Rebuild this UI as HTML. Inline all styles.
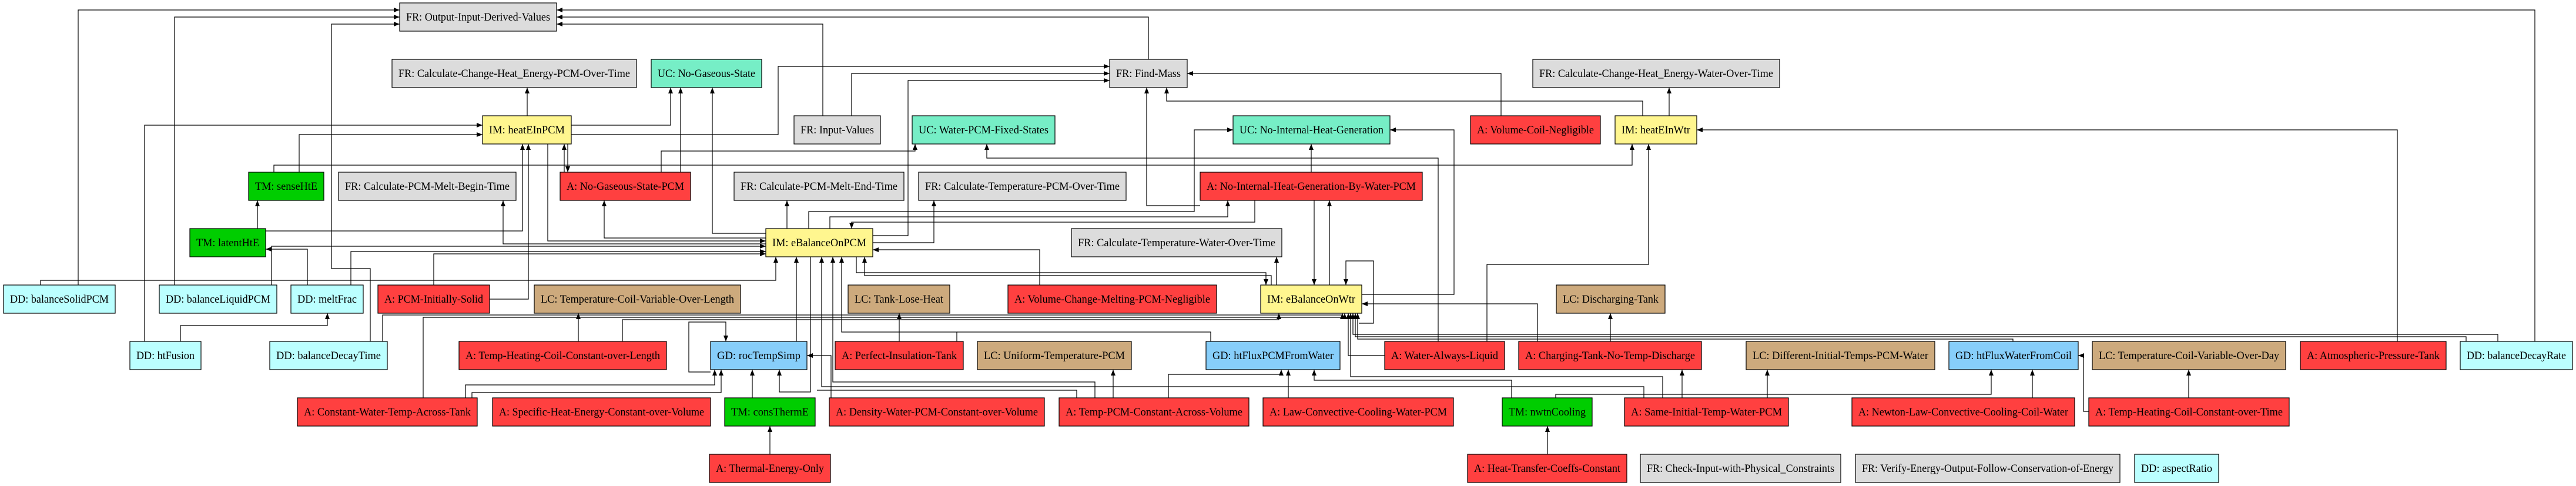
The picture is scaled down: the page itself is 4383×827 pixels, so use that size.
<!DOCTYPE html>
<html><head><meta charset="utf-8"><style>
html,body{margin:0;padding:0;background:#fff;}
svg{display:block;}
text{font-family:"Liberation Serif",serif;font-size:19px;fill:#000;text-anchor:middle;}
rect{stroke:#000;stroke-width:1.2;}
.e{fill:none;stroke:#000;stroke-width:1.2;marker-end:url(#a);}
.n{fill:none;stroke:#000;stroke-width:1.2;}
.FR{fill:#dcdcdc}.UC{fill:#76eec6}.IM{fill:#fff68f}.TM{fill:#00cd00}.A{fill:#ff4040}.LC{fill:#cdaa7d}.DD{fill:#bbffff}.GD{fill:#87cefa}
</style></head><body>
<svg width="4383" height="827" viewBox="0 0 4383 827" xmlns="http://www.w3.org/2000/svg">
<defs><marker id="a" markerWidth="10" markerHeight="8" refX="10" refY="4" orient="auto" markerUnits="userSpaceOnUse"><path d="M0,0L10,4L0,8z" fill="#000"/></marker></defs>
<g>
<polyline class="e" points="133,485 133,17 680,17"/>
<polyline class="e" points="297,485 297,29 680,29"/>
<polyline class="e" points="630,581 630,457 564,457 564,41 680,41"/>
<polyline class="e" points="4313,581 4313,17 947,17"/>
<polyline class="e" points="1954,101 1954,29 947,29"/>
<polyline class="e" points="1400,197 1400,41 947,41"/>
<polyline class="e" points="897,197 897,149"/>
<polyline class="e" points="246,581 246,213 821,213"/>
<polyline class="e" points="509,293 509,229 821,229"/>
<polyline class="e" points="466,293 466,281 2777,281 2777,245"/>
<polyline class="e" points="438,389 438,341"/>
<polyline class="e" points="452,393 889,393 889,245"/>
<polyline class="e" points="833,509 899,509 899,245"/>
<polyline class="e" points="960,293 960,245"/>
<polyline class="e" points="966,245 966,293"/>
<polyline class="e" points="932,245 932,410 1303,410"/>
<polyline class="e" points="1303,415 856,415 856,341"/>
<polyline class="e" points="1303,405 1028,405 1028,341"/>
<polyline class="e" points="523,485 523,424 452,424"/>
<polyline class="e" points="462,485 462,419 1303,419"/>
<polyline class="e" points="597,485 597,428 1303,428"/>
<polyline class="e" points="738,485 738,432 1303,432"/>
<polyline class="e" points="69,485 69,477 1320,477 1320,437"/>
<polyline class="e" points="307,581 307,554 557,554 557,533"/>
<polyline class="e" points="651,581 651,536 2284,536 2284,533"/>
<polyline class="e" points="720,677 720,540 2288,540 2288,533"/>
<polyline class="e" points="984,581 984,533"/>
<polyline class="e" points="1059,581 1059,544 2176,544 2176,533"/>
<polyline class="e" points="792,677 792,655 1216,655 1216,629"/>
<polyline class="e" points="803,677 803,668 1227,668 1227,629"/>
<polyline class="e" points="972,213 1141,213 1141,149"/>
<polyline class="e" points="1158,293 1158,149"/>
<polyline class="e" points="1303,397 1212,397 1212,149"/>
<polyline class="e" points="972,229 1324,229 1324,113 1888,113"/>
<polyline class="e" points="1449,197 1449,125 1888,125"/>
<polyline class="e" points="1485,401 1545,401 1545,137 1888,137"/>
<polyline class="e" points="2554,197 2554,125 2020,125"/>
<polyline class="e" points="2042,350 1951,350 1951,149"/>
<polyline class="e" points="2795,197 2795,172 1985,172 1985,149"/>
<polyline class="e" points="1125,293 1125,257 1557,257 1557,245"/>
<polyline class="e" points="2447,581 2447,269 1679,269 1679,245"/>
<polyline class="e" points="1339,389 1339,341"/>
<polyline class="e" points="1485,413 1589,413 1589,341"/>
<polyline class="e" points="1376,389 1376,360 2032,360 2032,221 2098,221"/>
<polyline class="e" points="1412,389 1412,369 2089,369 2089,341"/>
<polyline class="e" points="2135,341 2135,378 1449,378 1449,389"/>
<polyline class="e" points="1769,485 1769,425 1485,425"/>
<polyline class="e" points="1457,437 1457,464 2154,464 2154,485"/>
<polyline class="e" points="2163,485 2163,469 1471,469 1471,437"/>
<polyline class="e" points="2172,485 2172,437"/>
<polyline class="e" points="1355,581 1355,437"/>
<polyline class="e" points="1379,437 1379,667 1326,667 1326,629"/>
<polyline class="e" points="2797,677 2797,658 1398,658 1398,437"/>
<polyline class="e" points="1863,677 1863,650 1417,650 1417,437"/>
<polyline class="e" points="1628,581 1628,565 1432,565 1432,437"/>
<polyline class="n" points="2060,581 2060,565 1628,565"/>
<polyline class="e" points="1209,633 1172,633 1172,548 1235,548 1235,581"/>
<polyline class="e" points="1280,677 1280,629"/>
<polyline class="e" points="1530,581 1530,533"/>
<polyline class="e" points="1414,677 1414,605 1373,605"/>
<polyline class="e" points="1894,677 1894,629"/>
<polyline class="n" points="1832,677 1832,664 1390,664"/>
<polyline class="e" points="2192,677 2192,629"/>
<polyline class="e" points="1988,677 1988,637 2180,637 2180,629"/>
<polyline class="e" points="1310,773 1310,725"/>
<polyline class="e" points="2840,197 2840,149"/>
<polyline class="e" points="4079,581 4079,221 2887,221"/>
<polyline class="e" points="2262,485 2262,341"/>
<polyline class="e" points="2236,341 2236,485"/>
<polyline class="e" points="2231,293 2231,245"/>
<polyline class="e" points="2312,550 2337,550 2337,444 2290,444 2290,485"/>
<polyline class="e" points="2317,501 2474,501 2474,221 2365,221"/>
<polyline class="e" points="2616,581 2616,517 2317,517"/>
<polyline class="e" points="2530,581 2530,450 2805,450 2805,245"/>
<polyline class="e" points="2740,581 2740,533"/>
<polyline class="e" points="2862,677 2862,629"/>
<polyline class="e" points="3007,677 3007,629"/>
<polyline class="e" points="2356,605 2294,605 2294,533"/>
<polyline class="e" points="2572,677 2572,647 2236,647 2236,629"/>
<polyline class="e" points="2647,677 2647,671 3388,671 3388,629"/>
<polyline class="e" points="2829,677 2829,641 2298,641 2298,533"/>
<polyline class="e" points="4250,581 4250,569 2302,569 2302,533"/>
<polyline class="e" points="4196,581 4196,573 2306,573 2306,533"/>
<polyline class="e" points="3425,581 3425,577 2310,577 2310,533"/>
<polyline class="e" points="2633,773 2633,725"/>
<polyline class="e" points="3458,677 3458,629"/>
<polyline class="e" points="3724,677 3724,629"/>
<polyline class="e" points="3554,700 3545,700 3545,605 3536,605"/>
</g>
<g>
<rect class="FR" x="680" y="5" width="267" height="48"/><text x="813.5" y="35" textLength="245" lengthAdjust="spacingAndGlyphs">FR: Output-Input-Derived-Values</text>
<rect class="FR" x="667" y="101" width="416" height="48"/><text x="875" y="131" textLength="394" lengthAdjust="spacingAndGlyphs">FR: Calculate-Change-Heat_Energy-PCM-Over-Time</text>
<rect class="UC" x="1108" y="101" width="188" height="48"/><text x="1202" y="131" textLength="166" lengthAdjust="spacingAndGlyphs">UC: No-Gaseous-State</text>
<rect class="FR" x="1888" y="101" width="132" height="48"/><text x="1954" y="131" textLength="110" lengthAdjust="spacingAndGlyphs">FR: Find-Mass</text>
<rect class="FR" x="2608" y="101" width="420" height="48"/><text x="2818" y="131" textLength="398" lengthAdjust="spacingAndGlyphs">FR: Calculate-Change-Heat_Energy-Water-Over-Time</text>

<rect class="IM" x="821" y="197" width="151" height="48"/><text x="896.5" y="227" textLength="129" lengthAdjust="spacingAndGlyphs">IM: heatEInPCM</text>
<rect class="FR" x="1351" y="197" width="147" height="48"/><text x="1424.5" y="227" textLength="125" lengthAdjust="spacingAndGlyphs">FR: Input-Values</text>
<rect class="UC" x="1552" y="197" width="243" height="48"/><text x="1673.5" y="227" textLength="221" lengthAdjust="spacingAndGlyphs">UC: Water-PCM-Fixed-States</text>
<rect class="UC" x="2098" y="197" width="267" height="48"/><text x="2231.5" y="227" textLength="245" lengthAdjust="spacingAndGlyphs">UC: No-Internal-Heat-Generation</text>
<rect class="A" x="2502" y="197" width="221" height="48"/><text x="2612.5" y="227" textLength="199" lengthAdjust="spacingAndGlyphs">A: Volume-Coil-Negligible</text>
<rect class="IM" x="2748" y="197" width="139" height="48"/><text x="2817.5" y="227" textLength="117" lengthAdjust="spacingAndGlyphs">IM: heatEInWtr</text>

<rect class="TM" x="423" y="293" width="128" height="48"/><text x="487" y="323" textLength="106" lengthAdjust="spacingAndGlyphs">TM: senseHtE</text>
<rect class="FR" x="576" y="293" width="302" height="48"/><text x="727" y="323" textLength="280" lengthAdjust="spacingAndGlyphs">FR: Calculate-PCM-Melt-Begin-Time</text>
<rect class="A" x="953" y="293" width="222" height="48"/><text x="1064" y="323" textLength="200" lengthAdjust="spacingAndGlyphs">A: No-Gaseous-State-PCM</text>
<rect class="FR" x="1249" y="293" width="289" height="48"/><text x="1393.5" y="323" textLength="267" lengthAdjust="spacingAndGlyphs">FR: Calculate-PCM-Melt-End-Time</text>
<rect class="FR" x="1563" y="293" width="353" height="48"/><text x="1739.5" y="323" textLength="331" lengthAdjust="spacingAndGlyphs">FR: Calculate-Temperature-PCM-Over-Time</text>
<rect class="A" x="2042" y="293" width="378" height="48"/><text x="2231" y="323" textLength="356" lengthAdjust="spacingAndGlyphs">A: No-Internal-Heat-Generation-By-Water-PCM</text>

<rect class="TM" x="323" y="389" width="129" height="48"/><text x="387.5" y="419" textLength="107" lengthAdjust="spacingAndGlyphs">TM: latentHtE</text>
<rect class="IM" x="1303" y="389" width="182" height="48"/><text x="1394" y="419" textLength="160" lengthAdjust="spacingAndGlyphs">IM: eBalanceOnPCM</text>
<rect class="FR" x="1823" y="389" width="358" height="48"/><text x="2002" y="419" textLength="336" lengthAdjust="spacingAndGlyphs">FR: Calculate-Temperature-Water-Over-Time</text>

<rect class="DD" x="6" y="485" width="190" height="48"/><text x="101" y="515" textLength="168" lengthAdjust="spacingAndGlyphs">DD: balanceSolidPCM</text>
<rect class="DD" x="271" y="485" width="200" height="48"/><text x="371" y="515" textLength="178" lengthAdjust="spacingAndGlyphs">DD: balanceLiquidPCM</text>
<rect class="DD" x="495" y="485" width="123" height="48"/><text x="556.5" y="515" textLength="101" lengthAdjust="spacingAndGlyphs">DD: meltFrac</text>
<rect class="A" x="643" y="485" width="190" height="48"/><text x="738" y="515" textLength="168" lengthAdjust="spacingAndGlyphs">A: PCM-Initially-Solid</text>
<rect class="LC" x="909" y="485" width="351" height="48"/><text x="1084.5" y="515" textLength="329" lengthAdjust="spacingAndGlyphs">LC: Temperature-Coil-Variable-Over-Length</text>
<rect class="LC" x="1443" y="485" width="173" height="48"/><text x="1529.5" y="515" textLength="151" lengthAdjust="spacingAndGlyphs">LC: Tank-Lose-Heat</text>
<rect class="A" x="1715" y="485" width="355" height="48"/><text x="1892.5" y="515" textLength="333" lengthAdjust="spacingAndGlyphs">A: Volume-Change-Melting-PCM-Negligible</text>
<rect class="IM" x="2145" y="485" width="172" height="48"/><text x="2231" y="515" textLength="150" lengthAdjust="spacingAndGlyphs">IM: eBalanceOnWtr</text>
<rect class="LC" x="2648" y="485" width="185" height="48"/><text x="2740.5" y="515" textLength="163" lengthAdjust="spacingAndGlyphs">LC: Discharging-Tank</text>

<rect class="DD" x="221" y="581" width="121" height="48"/><text x="281.5" y="611" textLength="99" lengthAdjust="spacingAndGlyphs">DD: htFusion</text>
<rect class="DD" x="459" y="581" width="200" height="48"/><text x="559" y="611" textLength="178" lengthAdjust="spacingAndGlyphs">DD: balanceDecayTime</text>
<rect class="A" x="781" y="581" width="353" height="48"/><text x="957.5" y="611" textLength="331" lengthAdjust="spacingAndGlyphs">A: Temp-Heating-Coil-Constant-over-Length</text>
<rect class="GD" x="1209" y="581" width="164" height="48"/><text x="1291" y="611" textLength="142" lengthAdjust="spacingAndGlyphs">GD: rocTempSimp</text>
<rect class="A" x="1421" y="581" width="218" height="48"/><text x="1530" y="611" textLength="196" lengthAdjust="spacingAndGlyphs">A: Perfect-Insulation-Tank</text>
<rect class="LC" x="1663" y="581" width="262" height="48"/><text x="1794" y="611" textLength="240" lengthAdjust="spacingAndGlyphs">LC: Uniform-Temperature-PCM</text>
<rect class="GD" x="2052" y="581" width="228" height="48"/><text x="2166" y="611" textLength="206" lengthAdjust="spacingAndGlyphs">GD: htFluxPCMFromWater</text>
<rect class="A" x="2356" y="581" width="204" height="48"/><text x="2458" y="611" textLength="182" lengthAdjust="spacingAndGlyphs">A: Water-Always-Liquid</text>
<rect class="A" x="2584" y="581" width="311" height="48"/><text x="2739.5" y="611" textLength="289" lengthAdjust="spacingAndGlyphs">A: Charging-Tank-No-Temp-Discharge</text>
<rect class="LC" x="2971" y="581" width="321" height="48"/><text x="3131.5" y="611" textLength="299" lengthAdjust="spacingAndGlyphs">LC: Different-Initial-Temps-PCM-Water</text>
<rect class="GD" x="3316" y="581" width="220" height="48"/><text x="3426" y="611" textLength="198" lengthAdjust="spacingAndGlyphs">GD: htFluxWaterFromCoil</text>
<rect class="LC" x="3560" y="581" width="329" height="48"/><text x="3724.5" y="611" textLength="307" lengthAdjust="spacingAndGlyphs">LC: Temperature-Coil-Variable-Over-Day</text>
<rect class="A" x="3914" y="581" width="248" height="48"/><text x="4038" y="611" textLength="226" lengthAdjust="spacingAndGlyphs">A: Atmospheric-Pressure-Tank</text>
<rect class="DD" x="4186" y="581" width="191" height="48"/><text x="4281.5" y="611" textLength="169" lengthAdjust="spacingAndGlyphs">DD: balanceDecayRate</text>

<rect class="A" x="506" y="677" width="306" height="48"/><text x="659" y="707" textLength="284" lengthAdjust="spacingAndGlyphs">A: Constant-Water-Temp-Across-Tank</text>
<rect class="A" x="838" y="677" width="371" height="48"/><text x="1023.5" y="707" textLength="349" lengthAdjust="spacingAndGlyphs">A: Specific-Heat-Energy-Constant-over-Volume</text>
<rect class="TM" x="1233" y="677" width="154" height="48"/><text x="1310" y="707" textLength="132" lengthAdjust="spacingAndGlyphs">TM: consThermE</text>
<rect class="A" x="1411" y="677" width="366" height="48"/><text x="1594" y="707" textLength="344" lengthAdjust="spacingAndGlyphs">A: Density-Water-PCM-Constant-over-Volume</text>
<rect class="A" x="1802" y="677" width="323" height="48"/><text x="1963.5" y="707" textLength="301" lengthAdjust="spacingAndGlyphs">A: Temp-PCM-Constant-Across-Volume</text>
<rect class="A" x="2149" y="677" width="324" height="48"/><text x="2311" y="707" textLength="302" lengthAdjust="spacingAndGlyphs">A: Law-Convective-Cooling-Water-PCM</text>
<rect class="TM" x="2556" y="677" width="153" height="48"/><text x="2632.5" y="707" textLength="131" lengthAdjust="spacingAndGlyphs">TM: nwtnCooling</text>
<rect class="A" x="2764" y="677" width="279" height="48"/><text x="2903.5" y="707" textLength="257" lengthAdjust="spacingAndGlyphs">A: Same-Initial-Temp-Water-PCM</text>
<rect class="A" x="3151" y="677" width="379" height="48"/><text x="3340.5" y="707" textLength="357" lengthAdjust="spacingAndGlyphs">A: Newton-Law-Convective-Cooling-Coil-Water</text>
<rect class="A" x="3554" y="677" width="341" height="48"/><text x="3724.5" y="707" textLength="319" lengthAdjust="spacingAndGlyphs">A: Temp-Heating-Coil-Constant-over-Time</text>

<rect class="A" x="1207" y="773" width="206" height="48"/><text x="1310" y="803" textLength="184" lengthAdjust="spacingAndGlyphs">A: Thermal-Energy-Only</text>
<rect class="A" x="2497" y="773" width="271" height="48"/><text x="2632.5" y="803" textLength="249" lengthAdjust="spacingAndGlyphs">A: Heat-Transfer-Coeffs-Constant</text>
<rect class="FR" x="2791" y="773" width="341" height="48"/><text x="2961.5" y="803" textLength="319" lengthAdjust="spacingAndGlyphs">FR: Check-Input-with-Physical_Constraints</text>
<rect class="FR" x="3157" y="773" width="450" height="48"/><text x="3382" y="803" textLength="428" lengthAdjust="spacingAndGlyphs">FR: Verify-Energy-Output-Follow-Conservation-of-Energy</text>
<rect class="DD" x="3632" y="773" width="143" height="48"/><text x="3703.5" y="803" textLength="121" lengthAdjust="spacingAndGlyphs">DD: aspectRatio</text>
</g>
</svg>
</body></html>
